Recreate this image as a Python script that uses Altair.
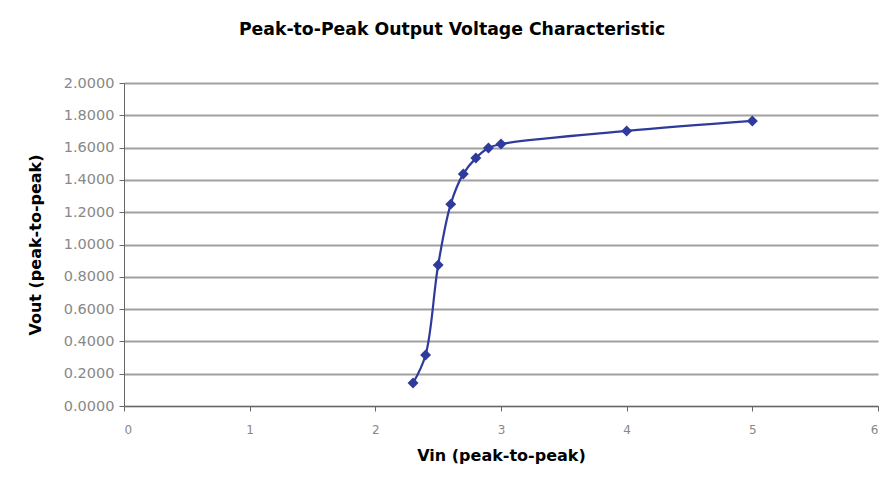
import altair as alt
import pandas as pd

vin = [2.3, 2.4, 2.5, 2.6, 2.7, 2.8, 2.9, 3.0, 4.0, 5.0]
vout = [0.142, 0.316, 0.873, 1.250, 1.437, 1.535, 1.597, 1.622, 1.703, 1.765]

df = pd.DataFrame({"vin": vin, "vout": vout})

color = "#2E3A9C"

x = alt.X("vin:Q", title="Vin (peak-to-peak)",
          scale=alt.Scale(domain=[0, 6], nice=False, zero=True),
          axis=alt.Axis(values=[0, 1, 2, 3, 4, 5, 6], format="d", grid=False,
                        labelColor="#888888", labelFontSize=12, labelFont="DejaVu Sans",
                        labelPadding=13,
                        titleFontSize=16, titleFontWeight="bold", titleColor="#000000",
                        titleFont="DejaVu Sans", titlePadding=12,
                        domainColor="#666666", tickColor="#666666", tickSize=5))
y = alt.Y("vout:Q", title="Vout (peak-to-peak)",
          scale=alt.Scale(domain=[0, 2], nice=False),
          axis=alt.Axis(values=[0, 0.2, 0.4, 0.6, 0.8, 1.0, 1.2, 1.4, 1.6, 1.8, 2.0],
                        format=".4f", gridColor="#A0A0A0", gridWidth=2,
                        labelColor="#888888", labelFontSize=14.5, labelFont="DejaVu Sans",
                        labelPadding=5,
                        titleFontSize=16, titleFontWeight="bold", titleColor="#000000",
                        titleFont="DejaVu Sans", titlePadding=20,
                        domainColor="#666666", tickColor="#666666", tickSize=5))

line = alt.Chart(df).mark_line(interpolate="catmull-rom", color=color, strokeWidth=2.2).encode(x=x, y=y)
pts = alt.Chart(df).mark_point(shape="diamond", filled=True, size=120, color=color, opacity=1).encode(x=x, y=y)

chart = (line + pts).properties(
    width=754, height=323,
    autosize=alt.AutoSizeParams(type="none"),
    padding={"left": 116, "top": 75, "right": 4, "bottom": 60},
    title=alt.TitleParams("Peak-to-Peak Output Voltage Characteristic", fontSize=17.3,
                          fontWeight="bold", font="DejaVu Sans", color="#000000",
                          anchor="middle", dx=-49, offset=37),
).configure(font="DejaVu Sans").configure_view(stroke=None)

chart.save("out.html", embed_options={"renderer": "svg", "actions": False})
